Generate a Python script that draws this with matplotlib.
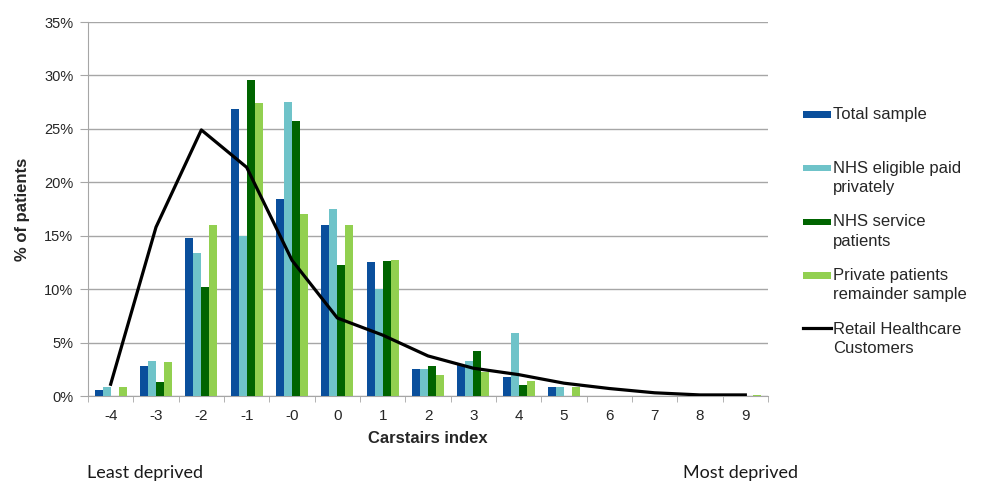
import matplotlib
matplotlib.use('Agg')
import matplotlib.pyplot as plt
import matplotlib.patches as mpatches
from matplotlib.container import BarContainer
from matplotlib.legend_handler import HandlerPatch, update_from_first_child
from matplotlib.ticker import FuncFormatter, FixedLocator
import numpy as np

plt.rcParams['font.family'] = ['Liberation Sans', 'DejaVu Sans']

# Carstairs index categories
categories = ['-4', '-3', '-2', '-1', '-0', '0', '1', '2', '3', '4', '5', '6', '7', '8', '9']

# % of patients per group
total_sample = [0.6, 2.8, 14.8, 26.9, 18.4, 16.0, 12.5, 2.5, 2.9, 1.8, 0.8, 0, 0, 0, 0]
nhs_paid_privately = [0.8, 3.3, 13.4, 15.0, 27.5, 17.5, 10.0, 2.5, 3.3, 5.9, 0.8, 0, 0, 0, 0]
nhs_service = [0, 1.3, 10.2, 29.6, 25.7, 12.3, 12.6, 2.8, 4.2, 1.0, 0, 0, 0, 0, 0]
private_remainder = [0.8, 3.2, 16.0, 27.4, 17.0, 16.0, 12.7, 2.0, 2.2, 1.4, 0.8, 0, 0, 0, 0.1]
retail_customers = [1.1, 15.8, 24.9, 21.4, 12.7, 7.3, 5.7, 3.75, 2.6, 2.0, 1.2, 0.7, 0.3, 0.1, 0.1]

bar_series = [
    ('Total sample\n ', total_sample, '#0a4f9c'),
    ('NHS eligible paid\nprivately', nhs_paid_privately, '#6fc3c9'),
    ('NHS service\npatients', nhs_service, '#006400'),
    ('Private patients\nremainder sample', private_remainder, '#92d050'),
]

fig = plt.figure(figsize=(9.86, 4.84), dpi=100)
ax = fig.add_axes([88 / 986, 1 - 396 / 484, 680 / 986, 374 / 484])

x = np.arange(len(categories))
w = 0.175
handles = []
for i, (label, vals, col) in enumerate(bar_series):
    b = ax.bar(x + (i - 1.5) * w, np.array(vals) / 100, w, color=col, label=label, zorder=3)
    handles.append(b)

line, = ax.plot(x, np.array(retail_customers) / 100, color='black', lw=2.3,
                label='Retail Healthcare\nCustomers', zorder=4)
handles.append(line)

ax.set_xlim(-0.5, len(categories) - 0.5)
ax.set_ylim(0, 0.35)
ax.set_yticks(np.arange(0, 0.351, 0.05))
ax.yaxis.set_major_formatter(FuncFormatter(lambda v, p: '%d%%' % round(v * 100)))
ax.grid(axis='y', color='#a6a6a6', lw=1.0, zorder=0)

ax.set_xticks(x)
ax.set_xticklabels(categories)
ax.xaxis.set_minor_locator(FixedLocator(np.arange(-0.5, len(categories), 1)))
ax.tick_params(axis='x', which='major', length=0, pad=9, labelsize=11, colors='#262626')
ax.tick_params(axis='x', which='minor', length=4, color='#a6a6a6')
ax.tick_params(axis='y', length=5.5, pad=5, labelsize=10.5, color='#a6a6a6', labelcolor='#262626')

for s in ['top', 'right']:
    ax.spines[s].set_visible(False)
for s in ['left', 'bottom']:
    ax.spines[s].set_color('#a6a6a6')

ax.set_xlabel('Carstairs index', fontsize=12, fontweight='bold', color='#262626')
ax.xaxis.set_label_coords(0.5, -0.093)
ax.xaxis.label.set_va('top')
ax.set_ylabel('% of patients', fontsize=12, fontweight='bold', color='#262626')
ax.yaxis.set_label_coords(-0.085, 0.5)


def thin_rect(legend, orig_handle, xdescent, ydescent, width, height, fontsize):
    h = 0.4 * fontsize
    return mpatches.Rectangle((-xdescent, -ydescent + height / 2 - h / 2), width, h)


leg = fig.legend(handles=handles, labels=[h.get_label() for h in handles],
                 loc='upper left', bbox_to_anchor=(803 / 986, 1 - 107 / 484),
                 frameon=False, fontsize=12, borderpad=0, borderaxespad=0,
                 handlelength=1.7, handleheight=1.0, handletextpad=0.12,
                 labelspacing=1.17,
                 handler_map={BarContainer: HandlerPatch(patch_func=thin_rect,
                                                         update_func=update_from_first_child)})
for t in leg.get_texts():
    t.set_color('#262626')
    t.set_linespacing(1.35)
for hp in leg._legend_handle_box.get_children():
    for item in hp.get_children():
        item.align = 'top'

fig.text(87 / 986, 1 - 473 / 484, 'Least deprived', fontsize=13, family='Lato',
         va='center', ha='left', color='#1a1a1a')
fig.text(798 / 986, 1 - 473 / 484, 'Most deprived', fontsize=13, family='Lato',
         va='center', ha='right', color='#1a1a1a')

fig.savefig('out.png', dpi=100)
